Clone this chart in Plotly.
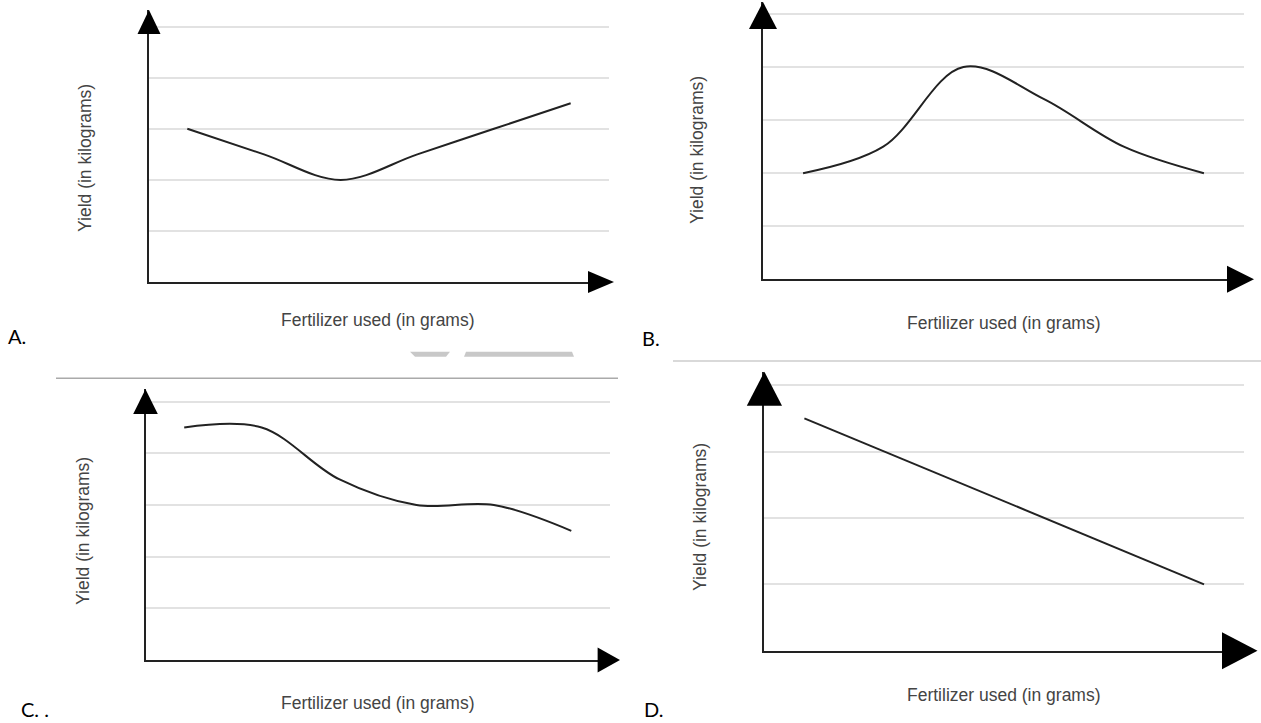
import plotly.graph_objects as go

W, H = 1261, 723

# ---- data (relative values read from the four sketches) ----
fertilizer = [1, 2, 3, 4, 5, 6]
yield_a = [3.0, 2.5, 2.0, 2.5, 3.0, 3.5]
yield_b = [2.0, 2.5, 4.0, 3.4, 2.5, 2.0]
yield_c = [4.5, 4.5, 3.5, 3.0, 3.0, 2.5]
yield_d = [3.5, 3.0, 2.5, 2.0, 1.5, 1.0]

panel_letters = ["A.", "B.", "C. .", "D."]
x_title = "Fertilizer used (in grams)"
y_title = "Yield (in kilograms)"


def fx(px):
    return px / W


def fy(py):
    return 1 - py / H


# panel geometry in pixels
panels = [
    dict(key="", data=yield_a, smooth=1.0, shape="spline", left=149, right=609, bottom=282, top=10,
         grid=51.06, ngrid=5, up_base=34, up_hw=11.5, rt_base=588, rt_tip=614, rt_hh=11,
         ylab=(85, 158), xlab=(378, 320), letter=(7, 336)),
    dict(key="2", data=yield_b, smooth=1.0, shape="spline", left=763, right=1244, bottom=279.3, top=2,
         grid=53.06, ngrid=5, up_base=29, up_hw=14, rt_base=1227, rt_tip=1254, rt_hh=13.5,
         ylab=(697, 150), xlab=(1004, 323), letter=(641, 338)),
    dict(key="3", data=yield_c, smooth=1.0, shape="spline", left=145.5, right=610, bottom=660, top=389.3,
         grid=51.66, ngrid=5, up_base=414, up_hw=12.3, rt_base=597.6, rt_tip=620, rt_hh=12.5,
         ylab=(83, 531), xlab=(378, 703), letter=(20, 709)),
    dict(key="4", data=yield_d, smooth=0, shape="linear", left=764.4, right=1244, bottom=650.7, top=371.7,
         grid=66.4, ngrid=4, up_base=405.7, up_hw=17.6, rt_base=1222, rt_tip=1257.5, rt_hh=18.5,
         ylab=(700, 517), xlab=(1004, 695), letter=(643, 709)),
]

fig = go.Figure()
shapes = []
annotations = []
layout_axes = {}

for i, p in enumerate(panels):
    k = p["key"]
    xa = "x" + k
    ya = "y" + k
    line = dict(color="#222222", width=2, shape=p["shape"])
    if p["shape"] == "spline":
        line["smoothing"] = p["smooth"]
    fig.add_trace(go.Scatter(x=fertilizer, y=p["data"], mode="lines", line=line,
                             xaxis=xa, yaxis=ya, hoverinfo="skip", showlegend=False))

    yrange_max = (p["bottom"] - p["top"]) / p["grid"]
    layout_axes["xaxis" + k] = dict(
        domain=[fx(p["left"]), fx(p["right"])], range=[0.5, 6.5], anchor=ya,
        showgrid=False, zeroline=False, showticklabels=False, ticks="",
        showline=True, linecolor="#222222", linewidth=1.5, fixedrange=True)
    layout_axes["yaxis" + k] = dict(
        domain=[fy(p["bottom"]), fy(p["top"])], range=[0, yrange_max], anchor=xa,
        tickvals=list(range(1, p["ngrid"] + 1)), showgrid=True, gridcolor="#e2e2e2", gridwidth=1.5,
        zeroline=False, showticklabels=False, ticks="",
        showline=True, linecolor="#222222", linewidth=1.5, fixedrange=True)

    # up arrow head
    L, T, B = p["left"], p["top"], p["up_base"]
    hw = p["up_hw"]
    shapes.append(dict(type="path", xref="paper", yref="paper",
                       path=f"M {fx(L-hw)},{fy(B)} L {fx(L)},{fy(T)} L {fx(L+hw)},{fy(B)} Z",
                       fillcolor="black", line=dict(width=0)))
    # right arrow head
    yb = p["bottom"]
    shapes.append(dict(type="path", xref="paper", yref="paper",
                       path=(f"M {fx(p['rt_base'])},{fy(yb - p['rt_hh'])} L {fx(p['rt_tip'])},{fy(yb)} "
                             f"L {fx(p['rt_base'])},{fy(yb + p['rt_hh'])} Z"),
                       fillcolor="black", line=dict(width=0)))

    annotations.append(dict(text=y_title, x=fx(p["ylab"][0]), y=fy(p["ylab"][1]), xref="paper", yref="paper",
                            textangle=-90, showarrow=False, xanchor="center", yanchor="middle",
                            font=dict(family="Liberation Sans, Arial", size=17.5, color="#444444")))
    annotations.append(dict(text=x_title, x=fx(p["xlab"][0]), y=fy(p["xlab"][1]), xref="paper", yref="paper",
                            showarrow=False, xanchor="center", yanchor="middle",
                            font=dict(family="Liberation Sans, Arial", size=17.5, color="#444444")))
    annotations.append(dict(text=panel_letters[i], x=fx(p["letter"][0]), y=fy(p["letter"][1]),
                            xref="paper", yref="paper", showarrow=False, xanchor="left", yanchor="middle",
                            borderpad=0, font=dict(family="Lato, Open Sans", size=20, color="#000000")))

# separator lines and faint remnants from the source page
shapes.append(dict(type="line", xref="paper", yref="paper", x0=fx(56), x1=fx(618), y0=fy(378.3), y1=fy(378.3),
                   line=dict(color="#aaaaaa", width=1.5)))
shapes.append(dict(type="line", xref="paper", yref="paper", x0=fx(673), x1=fx(1261), y0=fy(361), y1=fy(361),
                   line=dict(color="#cccccc", width=1.5)))
shapes.append(dict(type="path", xref="paper", yref="paper",
                   path=f"M {fx(410)},{fy(351.7)} L {fx(450)},{fy(351.7)} L {fx(446)},{fy(356.7)} L {fx(415)},{fy(356.7)} Z",
                   fillcolor="#c8c8c8", line=dict(width=0)))
shapes.append(dict(type="path", xref="paper", yref="paper",
                   path=f"M {fx(466)},{fy(351.7)} L {fx(572)},{fy(351.7)} L {fx(574)},{fy(356.7)} L {fx(464)},{fy(356.7)} Z",
                   fillcolor="#c8c8c8", line=dict(width=0)))

fig.update_layout(width=W, height=H, margin=dict(l=0, r=0, t=0, b=0),
                  paper_bgcolor="white", plot_bgcolor="white", showlegend=False,
                  shapes=shapes, annotations=annotations, **layout_axes)

# remove the default 8px page margin so the figure fills the window exactly
fig.write_html("out.html", config={"displayModeBar": False},
               post_script="document.body.style.margin='0';document.body.style.overflow='hidden';")
